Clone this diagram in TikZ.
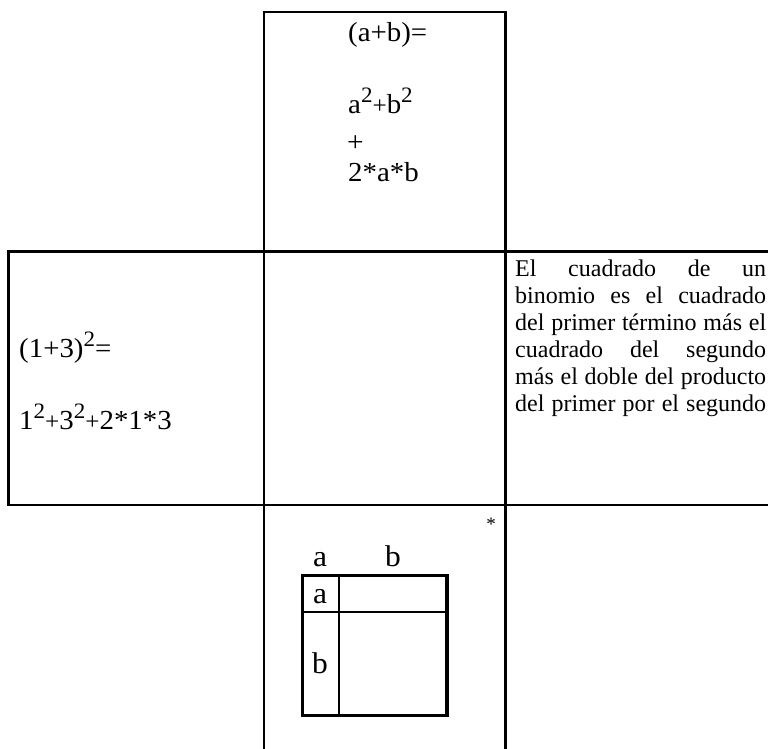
\documentclass[tikz,border=0pt]{standalone}
\usepackage{fontspec}
\setmainfont{Liberation Serif}
\newfontfamily\boxfont[FakeStretch=1.05]{Liberation Serif}
\newcommand{\sqr}[1]{\raisebox{0.4em}{\fontsize{22}{22}\selectfont #1}}
\newcommand{\smp}{{\fontsize{24}{24}\selectfont +}}
\newcommand{\jline}[1]{\makebox[251pt][s]{#1}}
\begin{document}
\begin{tikzpicture}[x=1pt,y=-1pt,
  grid/.style={line width=2.5pt, line cap=rect},
  sqthick/.style={line width=3.5pt},
  sqthin/.style={line width=2pt},
  boxtxt/.style={anchor=base west, inner sep=0pt, font=\boxfont\fontsize{27.5}{30}\selectfont},
  lbl/.style={anchor=base, inner sep=0pt, font=\boxfont\fontsize{30}{30}\selectfont},
  para/.style={anchor=base west, inner sep=0pt, font=\fontsize{24}{27}\selectfont}]
\useasboundingbox (0,0) rectangle (768,748);
% table lines
\draw[grid] (264,748) -- (264,12) -- (505.5,12) -- (505.5,748);
\draw[grid] (8.5,251.5) -- (768,251.5);
\draw[grid] (8.5,505) -- (768,505);
\draw[grid] (8.5,251.5) -- (8.5,505);
% top cell
\node[boxtxt] (t1) at (348,41) {(a+b)=};
\node[boxtxt] (t2) at (348,113) {a\sqr{2}\smp b\sqr{2}};
\node[boxtxt] (t3) at (347,151) {{\fontsize{28}{28}\selectfont +}};
\node[boxtxt] (t4) at (348,181) {2*a*b};
% left cell
\node[boxtxt] (l1) at (19,357) {(1+3)\sqr{2}=};
\node[boxtxt] (l2) at (19,429) {1\sqr{2}\smp 3\sqr{2}\smp 2*1*3};
% right cell paragraph
\node[para] (p1) at (515,276) {\jline{El cuadrado de un}};
\node[para] (p2) at (515,303) {\jline{binomio es el cuadrado}};
\node[para] (p3) at (515,330) {\jline{del primer término más el}};
\node[para] (p4) at (515,357) {\jline{cuadrado del segundo}};
\node[para] (p5) at (515,384) {\jline{más el doble del producto}};
\node[para] (p6) at (515,411) {\jline{del primer por el segundo}};
% bottom cell
\node[anchor=center, inner sep=0pt, font=\fontsize{19}{19}\selectfont] (star) at (491,524) {*};
\node[lbl] (ta) at (320,566) {a};
\node[lbl] (tb) at (393,566) {b};
\draw[sqthin] (338.7,575.5) -- (338.7,715.5);
\draw[sqthin] (302.5,611.7) -- (447,611.7);
\draw[sqthick] (302.5,575.5) rectangle (447,715.5);
\node[lbl] (ca) at (320,603) {a};
\node[lbl] (cb) at (320,673) {b};
\end{tikzpicture}
\end{document}
